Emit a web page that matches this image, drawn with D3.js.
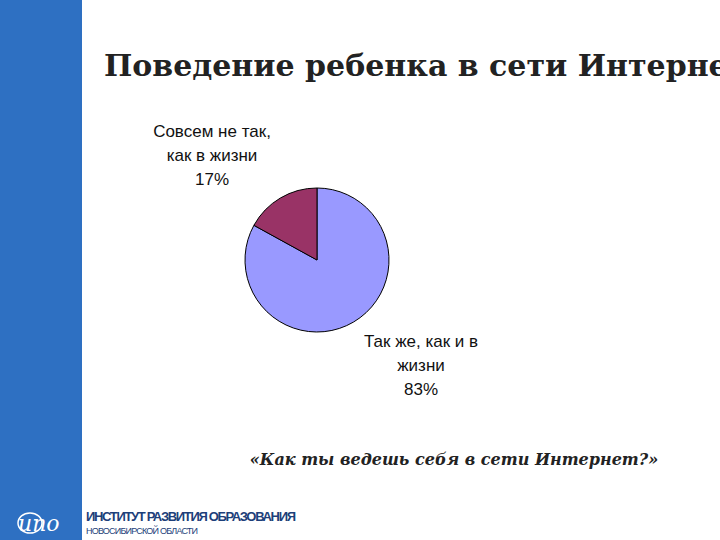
<!DOCTYPE html>
<html><head><meta charset="utf-8">
<script src="https://cdn.jsdelivr.net/npm/d3@7"></script>
<style>body{margin:0;background:#fff;overflow:hidden}</style>
</head><body>
<svg id="chart" width="720" height="540"></svg>
<script>
// Данные диаграммы
const categories = ["Так же, как и в жизни", "Совсем не так, как в жизни"];
const values = [83, 17];
const colors = ["#9999ff", "#993366"];

const svg = d3.select("#chart");

// Синяя полоса слева
svg.append("rect").attr("x", 0).attr("y", 0).attr("width", 82).attr("height", 540).attr("fill", "#2e70c2");

svg.append("text").attr("x", 104).attr("y", 76)
    .attr("font-family", "DejaVu Serif").attr("font-weight", "bold").attr("font-size", 30)
    .attr("fill", "#222").text("Поведение ребенка в сети Интернет");

const cx = 317, cy = 260, r = 72;
const arc = d3.arc().innerRadius(0).outerRadius(r);
// 83% по часовой от 12 часов, остаток — 17%
const arcs = d3.pie().sort(null)(values);
const g = svg.append("g").attr("transform", `translate(${cx},${cy})`);
g.selectAll("path").data(arcs).enter().append("path")
    .attr("d", arc).attr("fill", (d, i) => colors[i])
    .attr("stroke", "#000").attr("stroke-width", 1);

// Подписи
const labels = [
    {lines: ["Так же, как и в", "жизни", values[0] + "%"], x: 421, y: 347},
    {lines: ["Совсем не так,", "как в жизни", values[1] + "%"], x: 212, y: 137}
];
labels.forEach(l => {
    const t = svg.append("text").attr("text-anchor", "middle")
        .attr("font-family", "Liberation Sans").attr("font-size", 17).attr("fill", "#111");
    l.lines.forEach((s, i) => t.append("tspan").attr("x", l.x).attr("y", l.y + i * 24).text(s));
});

svg.append("text").attr("x", 454).attr("y", 465).attr("text-anchor", "middle")
    .attr("font-family", "DejaVu Serif").attr("font-style", "italic").attr("font-weight", "bold")
    .attr("font-size", 16).attr("fill", "#222").text("«Как ты ведешь себя в сети Интернет?»");

// Логотип
svg.append("text").attr("x", 18).attr("y", 531).attr("font-family", "DejaVu Serif")
    .attr("font-style", "italic").attr("font-size", 22).attr("fill", "#fff").text("ипо");
svg.append("ellipse").attr("cx", 30).attr("cy", 523).attr("rx", 12).attr("ry", 10)
    .attr("fill", "none").attr("stroke", "#fff").attr("stroke-width", 1.5);
svg.append("text").attr("x", 86).attr("y", 521).attr("font-family", "Liberation Sans")
    .attr("font-weight", "bold").attr("font-size", 13).attr("fill", "#1d3f7a")
    .attr("textLength", 210).text("ИНСТИТУТ РАЗВИТИЯ ОБРАЗОВАНИЯ");
svg.append("text").attr("x", 86).attr("y", 534).attr("font-family", "Liberation Sans")
    .attr("font-size", 9).attr("fill", "#1d3f7a").attr("textLength", 112).text("НОВОСИБИРСКОЙ ОБЛАСТИ");
</script>
</body></html>
